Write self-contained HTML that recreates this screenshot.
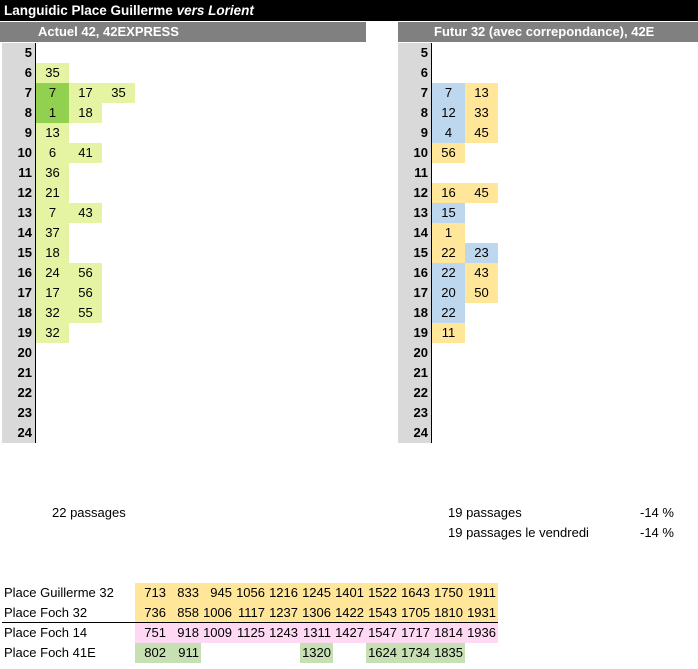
<!DOCTYPE html>
<html><head><meta charset="utf-8">
<style>
body{margin:0;width:698px;height:669px;background:#fff;position:relative;overflow:hidden;font-family:"Liberation Sans",sans-serif;font-size:13px;color:#000}
div.a{position:absolute;box-sizing:border-box;white-space:nowrap}
.c{width:33px;height:20px;line-height:20px;text-align:center}
.h{width:33px;height:20px;line-height:20px;text-align:right;padding-right:3px;font-weight:bold;background:#d9d9d9}
.t{height:20px;line-height:20px}
</style></head><body>
<div class="a" style="left:0;top:0;width:698px;height:21px;background:#000;color:#fff;font-weight:bold;line-height:21px;padding-left:4px;font-size:13.5px">Languidic Place Guillerme <i>vers Lorient</i></div>
<div class="a" style="left:0;top:22px;width:366px;height:20px;background:#808080;color:#fff;font-weight:bold;line-height:20px;padding-left:38px">Actuel 42, 42EXPRESS</div>
<div class="a" style="left:398px;top:22px;width:300px;height:20px;background:#808080;color:#fff;font-weight:bold;line-height:20px;padding-left:36px">Futur 32 (avec correpondance), 42E</div>
<div class="a" style="left:35px;top:43px;width:1px;height:400px;background:#000"></div>
<div class="a" style="left:431px;top:43px;width:1px;height:400px;background:#000"></div>
<div id="grid"></div>
<div class="a t" style="left:52px;top:503px">22 passages</div>
<div class="a t" style="left:448px;top:503px">19 passages</div>
<div class="a t" style="left:448px;top:523px">19 passages le vendredi</div>
<div class="a t" style="left:640px;top:503px">-14 %</div>
<div class="a t" style="left:640px;top:523px">-14 %</div>
<div class="a" style="left:2px;top:622px;width:496px;height:1px;background:#000"></div>
<script>
const hours=[5,6,7,8,9,10,11,12,13,14,15,16,17,18,19,20,21,22,23,24];
// left: [hour, minute, colorKey]
const leftDeps=[[6,35,'g'],[7,7,'G'],[7,17,'g'],[7,35,'g'],[8,1,'G'],[8,18,'g'],[9,13,'g'],[10,6,'g'],[10,41,'g'],[11,36,'g'],[12,21,'g'],[13,7,'g'],[13,43,'g'],[14,37,'g'],[15,18,'g'],[16,24,'g'],[16,56,'g'],[17,17,'g'],[17,56,'g'],[18,32,'g'],[18,55,'g'],[19,32,'g']];
const rightDeps=[[7,7,'b'],[7,13,'y'],[8,12,'b'],[8,33,'y'],[9,4,'b'],[9,45,'y'],[10,56,'y'],[12,16,'y'],[12,45,'y'],[13,15,'b'],[14,1,'y'],[15,22,'y'],[15,23,'b'],[16,22,'b'],[16,43,'y'],[17,20,'b'],[17,50,'y'],[18,22,'b'],[19,11,'y']];
const stopNames=['Place Guillerme 32','Place Foch 32','Place Foch 14','Place Foch 41E'];
const stopTimes=[
[713,833,945,1056,1216,1245,1401,1522,1643,1750,1911],
[736,858,1006,1117,1237,1306,1422,1543,1705,1810,1931],
[751,918,1009,1125,1243,1311,1427,1547,1717,1814,1936],
[802,911,null,null,null,1320,null,1624,1734,1835,null]];
const colors={g:'#e4f4a2',G:'#92d050',b:'#bdd7ee',y:'#ffe699'};
const rowBg=['#ffe699','#ffe699','#ffd9f4','#c6e0b4'];
const g=document.getElementById('grid');
function mk(cls,x,y,txt,bg){const d=document.createElement('div');d.className='a '+cls;d.style.left=x+'px';d.style.top=y+'px';if(bg)d.style.background=bg;d.textContent=txt;g.appendChild(d);return d;}
const rowY=h=>43+(h-5)*20;
hours.forEach(h=>{
 let d=mk('h',2,rowY(h),h);
 
 
 d=mk('h',398,rowY(h),h);
 
 
});
function place(list,x0,name){const cnt={};list.forEach(([h,m,k])=>{const i=cnt[h]||0;cnt[h]=i+1;
 const d=mk('c',x0+i*33,rowY(h),m,colors[k]);
 
 });}
place(leftDeps,36,'left-departure-cell');
place(rightDeps,432,'right-departure-cell');
stopNames.forEach((n,r)=>{const y=583+r*20;
 let d=mk('t',4,y,n);
 
 
 stopTimes[r].forEach((v,i)=>{if(v===null)return;
  const c=mk('c',135+i*33,y,v,rowBg[r]);c.style.textAlign='right';c.style.paddingRight='2px';
  
  });
});
</script>
</body></html>
